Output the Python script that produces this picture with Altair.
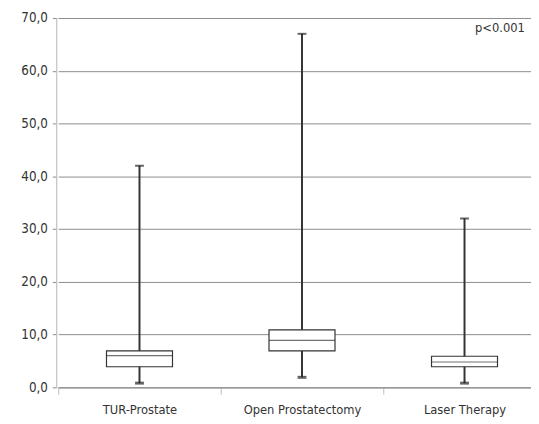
import altair as alt
import pandas as pd

categories = ["TUR-Prostate", "Open Prostatectomy", "Laser Therapy"]
mins = [0.8, 1.9, 0.8]
q1s = [3.9, 6.9, 3.9]
medians = [6.0, 8.9, 4.8]
q3s = [6.9, 10.9, 5.9]
maxs = [42.0, 67.0, 32.0]
p_text = "p<0.001"

df = pd.DataFrame({"cat": categories, "min": mins, "q1": q1s, "med": medians,
                   "q3": q3s, "max": maxs})

FONT = "DejaVu Sans Condensed, Noto Sans, sans-serif"
x = alt.X("cat:N", sort=categories, title=None,
          scale=alt.Scale(range=[2, 497], paddingInner=0, paddingOuter=0),
          axis=alt.Axis(labelAngle=0, labelFont=FONT, labelFontSize=13, labelColor="#333333",
                        domainColor="#8c8c8c", tickColor="#bfbfbf", tickSize=7,
                        tickBand="extent", labelPadding=10, grid=False))
yscale = alt.Scale(domain=[0, 70], nice=False)
yaxis = alt.Axis(values=list(range(0, 71, 10)), labelExpr="replace(format(datum.value, '.1f'), '.', ',')",
                 labelFont=FONT, labelFontSize=13.5, labelColor="#333333",
                 gridColor="#8c8c8c", tickColor="#8c8c8c", tickSize=4, labelPadding=5,
                 domainColor="#bfbfbf", title=None)

base = alt.Chart(df)
whisk = base.mark_rule(color="#333333", strokeWidth=2).encode(
    x=x, y=alt.Y("min:Q", scale=yscale, axis=yaxis), y2="max:Q")
caps_lo = base.mark_tick(color="#222222", size=9, thickness=3).encode(x=x, y="min:Q")
caps_hi = base.mark_tick(color="#222222", size=9, thickness=2).encode(x=x, y="max:Q")
box = base.mark_bar(size=67, fill="white", stroke="#333333", strokeWidth=1.2).encode(
    x=x, y="q1:Q", y2="q3:Q")
med = base.mark_tick(color="#333333", size=67, thickness=1.2).encode(x=x, y="med:Q")
ptxt = alt.Chart(pd.DataFrame({"cat": [categories[2]], "v": [68.0], "t": [p_text]})).mark_text(
    font=FONT, fontSize=13, color="#333333", dx=36).encode(x=x, y="v:Q", text="t:N")

chart = alt.layer(whisk, caps_lo, caps_hi, box, med, ptxt).properties(
    width=482, height=375, autosize=alt.AutoSizeParams(type="none"),
    padding={"left": 49, "top": 7, "right": 0, "bottom": 30}
).configure_view(stroke=None).configure(background="white")

chart.save("out.html", embed_options={"renderer": "svg", "actions": False})
